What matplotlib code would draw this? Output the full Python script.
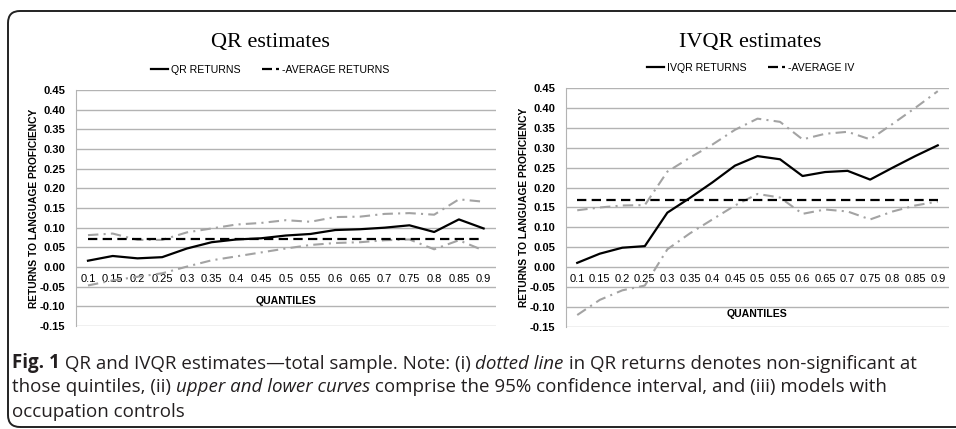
import matplotlib.pyplot as plt
from matplotlib.patches import FancyBboxPatch
from matplotlib.lines import Line2D

quantiles = ['0.1', '0.15', '0.2', '0.25', '0.3', '0.35', '0.4', '0.45', '0.5',
             '0.55', '0.6', '0.65', '0.7', '0.75', '0.8', '0.85', '0.9']

# QR estimates
qr_returns = [0.016, 0.028, 0.022, 0.025, 0.047, 0.063, 0.070, 0.073, 0.080,
              0.084, 0.094, 0.096, 0.100, 0.106, 0.089, 0.121, 0.098]
qr_upper = [0.081, 0.085, 0.069, 0.069, 0.088, 0.098, 0.108, 0.112, 0.119,
            0.115, 0.127, 0.128, 0.135, 0.137, 0.133, 0.172, 0.166]
qr_lower = [-0.047, -0.034, -0.025, -0.016, 0.001, 0.017, 0.027, 0.037, 0.047,
            0.056, 0.061, 0.063, 0.068, 0.070, 0.045, 0.068, 0.042]
qr_average = 0.07

# IVQR estimates
ivqr_returns = [0.011, 0.034, 0.049, 0.053, 0.137, 0.174, 0.213, 0.255, 0.279,
                0.271, 0.229, 0.239, 0.242, 0.220, 0.250, 0.279, 0.306]
ivqr_upper = [0.143, 0.150, 0.155, 0.156, 0.240, 0.275, 0.308, 0.345, 0.373,
              0.365, 0.321, 0.335, 0.340, 0.321, 0.360, 0.400, 0.442]
ivqr_lower = [-0.120, -0.082, -0.058, -0.046, 0.045, 0.085, 0.120, 0.155, 0.184,
              0.175, 0.134, 0.145, 0.140, 0.120, 0.140, 0.155, 0.165]
ivqr_average = 0.17

yticks = [-0.15, -0.10, -0.05, 0.00, 0.05, 0.10, 0.15, 0.20, 0.25, 0.30, 0.35, 0.40, 0.45]

GRID = '#b3b3b3'
CI = '#a3a3a3'
SANS = 'Liberation Sans'
CI_STYLE = (0, (5, 2.5, 1, 2.5))
AVG_STYLE = (0, (4.2, 2.4))

fig = plt.figure(figsize=(9.56, 4.29), dpi=100)

# rounded frame around the figure panel
frame = FancyBboxPatch((0.08, 0.02), 9.8, 4.16, boxstyle='round,pad=0,rounding_size=0.12',
                       transform=fig.dpi_scale_trans, fill=False, edgecolor='#222222',
                       linewidth=1.4, clip_on=False)
fig.patches.append(frame)


def draw_panel(rect, est, upper, lower, avg, title, leg_labels, leg_center,
               xlab_y, ylab_x, xtick_size):
    ax = fig.add_axes(rect)
    x = list(range(len(quantiles)))
    ax.plot(x, upper, color=CI, lw=1.5, linestyle=CI_STYLE, zorder=3)
    ax.plot(x, lower, color=CI, lw=1.5, linestyle=CI_STYLE, zorder=3)
    ax.plot(x, [avg] * len(x), color='black', lw=1.6, linestyle=AVG_STYLE, zorder=4)
    ax.plot(x, est, color='black', lw=1.6, zorder=5)

    ax.set_xlim(-0.5, len(x) - 0.5)
    ax.set_ylim(-0.15, 0.45)
    ax.yaxis.grid(True, color=GRID, lw=1.0)
    ax.set_axisbelow(True)
    ax.spines['bottom'].set_position(('data', 0))
    ax.spines['bottom'].set_visible(False)
    ax.spines['top'].set_visible(False)
    ax.spines['right'].set_visible(False)
    ax.spines['left'].set_color(GRID)
    ax.tick_params(axis='both', length=0)
    ax.tick_params(axis='x', pad=5, labelsize=xtick_size)
    ax.tick_params(axis='y', pad=7.5, labelsize=8)

    ax.set_yticks(yticks)
    ax.set_yticklabels([f'{v:.2f}' for v in yticks], fontsize=8, fontweight='bold',
                       family=SANS)
    ax.set_xticks(x)
    ax.set_xticklabels(quantiles, fontsize=xtick_size, family=SANS)

    ax.set_xlabel('QUANTILES', fontsize=7.6, fontweight='bold', family=SANS)
    ax.xaxis.set_label_coords(0.5, xlab_y)
    ax.set_ylabel('RETURNS TO LANGUAGE PROFICIENCY', fontsize=7.4, fontweight='bold',
                  family=SANS)
    ax.yaxis.set_label_coords(ylab_x, 0.5)

    fig.text(leg_center[0], 0.902, title, ha='center', va='center', fontsize=16,
             family='Liberation Serif')
    handles = [Line2D([], [], color='black', lw=1.6),
               Line2D([], [], color='black', lw=1.6, linestyle=(0, (4.5, 1.8)))]
    fig.legend(handles, leg_labels, loc='center', bbox_to_anchor=leg_center, ncol=2,
               frameon=False, handlelength=1.6, handletextpad=0.3,
               columnspacing=2.0, prop={'family': SANS, 'size': 7.6})
    return ax


ax1 = draw_panel([0.0791, 0.2401, 0.4397, 0.5501], qr_returns, qr_upper, qr_lower,
                 qr_average, 'QR estimates', ['QR RETURNS', '-AVERAGE RETURNS'],
                 (0.283, 0.837), 0.127, -0.088, 8.0)
ax2 = draw_panel([0.592, 0.2378, 0.4007, 0.5571], ivqr_returns, ivqr_upper, ivqr_lower,
                 ivqr_average, 'IVQR estimates', ['IVQR RETURNS', '-AVERAGE IV'],
                 (0.785, 0.842), 0.075, -0.097, 8.0)

# caption with mixed bold / italic runs
caption_lines = [
    [('Fig. 1', 'bold', 'normal'),
     (' QR and IVQR estimates\u2014total sample. Note: (i) ', 'normal', 'normal'),
     ('dotted line', 'normal', 'italic'),
     (' in QR returns denotes non-significant at', 'normal', 'normal')],
    [('those quintiles, (ii) ', 'normal', 'normal'),
     ('upper and lower curves', 'normal', 'italic'),
     (' comprise the 95% confidence interval, and (iii) models with', 'normal', 'normal')],
    [('occupation controls', 'normal', 'normal')],
]
line_y = [0.1422, 0.0862, 0.028]
for runs, y in zip(caption_lines, line_y):
    prev = None
    for text, weight, style in runs:
        kw = dict(fontsize=13.5, fontweight=weight, fontstyle=style,
                  family=['Open Sans', 'DejaVu Sans'], color='#231f20')
        if prev is None:
            prev = fig.text(0.0125, y, text, ha='left', va='baseline', **kw)
        else:
            prev = ax1.annotate(text, xy=(1, 0), xycoords=prev, ha='left', va='bottom',
                                annotation_clip=False, **kw)

fig.savefig('out.png', dpi=100)
